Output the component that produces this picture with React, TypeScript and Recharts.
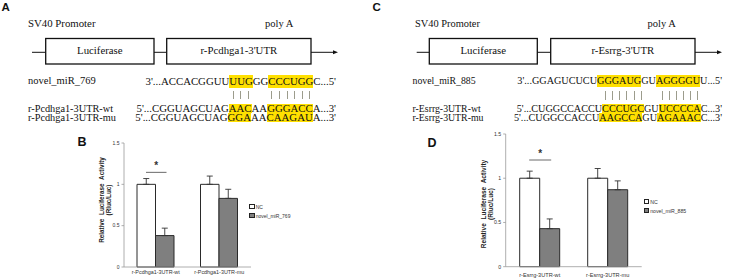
import React from 'react';
import { BarChart, Bar, XAxis, YAxis, ErrorBar, ReferenceDot } from 'recharts';

const SERIF = '"Liberation Serif", "Times New Roman", Times, serif';
const SANS = '"Liberation Sans", Arial, Helvetica, sans-serif';
const YELLOW = '#FFE000';

type Seg = [string, boolean];

// ---------- Panel A sequences ----------
const mirA: Seg[] = [["3'...ACCACGGUU", false], ['UUG', true], ['GG', false], ['CCCUGG', true], ["C...5'", false]];
const wtA: Seg[] = [["5'...CGGUAGCUAG", false], ['AAC', true], ['AA', false], ['GGGACC', true], ["A...3'", false]];
const muA: Seg[] = [["5'...CGGUAGCUAG", false], ['GGA', true], ['AA', false], ['CAAGAU', true], ["A...3'", false]];
// ---------- Panel C sequences ----------
const mirC: Seg[] = [["3'...GGAGUCUCU", false], ['GGGAUG', true], ['GU', false], ['AGGGGU', true], ["U...5'", false]];
const wtC: Seg[] = [["5'...CUGGCCACCU", false], ['CCCUGC', true], ['GU', false], ['UCCCCA', true], ["C...3'", false]];
const muC: Seg[] = [["5'...CUGGCCACCU", false], ['AAGCCA', true], ['GU', false], ['AGAAAC', true], ["C...3'", false]];

// ---------- Panel B data ----------
const categoriesB = ['r-Pcdhga1-3UTR-wt', 'r-Pcdhga1-3UTR-mu'];
const ncB = [1.0, 1.0];
const ncErrB = [0.07, 0.1];
const mirB = [0.38, 0.83];
const mirErrB = [0.09, 0.11];
const seriesB = ['NC', 'novel_miR_769'];

// ---------- Panel D data ----------
const categoriesD = ['r-Esrrg-3UTR-wt', 'r-Esrrg-3UTR-mu'];
const ncD = [1.0, 1.0];
const ncErrD = [0.08, 0.11];
const mirD = [0.43, 0.87];
const mirErrD = [0.11, 0.1];
const seriesD = ['NC', 'novel_miR_885'];

const yTicks = [0, 0.5, 1, 1.5];

function SeqRow({ segs, right, top, h, fs, bars }: { segs: Seg[]; right: number; top: number; h: number; fs: number; bars?: boolean }) {
  return (
    <div style={{ position: 'absolute', right: 738 - right, top, height: h, lineHeight: `${h}px`, fontSize: fs, fontFamily: SERIF, whiteSpace: 'nowrap', color: bars ? 'transparent' : '#111' }}>
      {segs.map(([t, hl], i) =>
        hl ? (
          bars ? (
            t.split('').map((ch, j) => (
              <span key={`${i}-${j}`} style={{ display: 'inline-block', position: 'relative', height: h }}>
                {ch}
                <span style={{ position: 'absolute', left: '50%', top: 0, width: 1, height: h, background: '#9c9c8c' }} />
              </span>
            ))
          ) : (
            <span key={i} style={{ display: 'inline-block', height: h, background: YELLOW }}>{t}</span>
          )
        ) : (
          <span key={i}>{t}</span>
        )
      )}
    </div>
  );
}

function Label({ text, left, top, h, fs }: { text: string; left: number; top: number; h: number; fs: number }) {
  return (
    <div style={{ position: 'absolute', left, top, height: h, lineHeight: `${h}px`, fontSize: fs, fontFamily: SERIF, whiteSpace: 'nowrap', color: '#111' }}>{text}</div>
  );
}

interface ChartProps {
  left: number; top: number; width: number; height: number;
  yAxisW: number; mTop: number; mRight: number; xAxisH: number; xOff: number;
  barSize: number; categories: string[]; nc: number[]; ncErr: number[]; mir: number[]; mirErr: number[];
  sigY: number; starGap: number; tickFs: number; xTickFs: number;
}

function LucChart(p: ChartProps) {
  const data = p.categories.map((name, i) => ({
    name,
    nc: p.nc[i],
    ncErr: [0, p.ncErr[i]],
    mir: p.mir[i],
    mirErr: [0, p.mirErr[i]],
  }));
  const bs = p.barSize;
  const SigShape = (s: any) => {
    const cx = s.cx;
    const cy = s.cy;
    return (
      <g>
        <line x1={cx - bs / 2 - 0.5} x2={cx + bs / 2 + 1.5} y1={cy} y2={cy} stroke="#444" strokeWidth={0.8} />
        <text x={cx + 0.5} y={cy - p.starGap} textAnchor="middle" fontSize={10} fontFamily={SANS} fontWeight={700} fill="#333">*</text>
      </g>
    );
  };
  return (
    <div style={{ position: 'absolute', left: p.left, top: p.top }}>
      <BarChart width={p.width} height={p.height} data={data} margin={{ top: p.mTop, right: p.mRight, bottom: 0, left: 0 }} barGap={0}>
        <XAxis
          dataKey="name"
          height={p.xAxisH}
          interval={0}
          tickLine={false}
          tickSize={p.xOff}
          tickMargin={0}
          axisLine={{ stroke: '#999', strokeWidth: 0.8 }}
          tick={{ fontSize: p.xTickFs, fill: '#333', fontFamily: SANS }}
        />
        <YAxis
          width={p.yAxisW}
          domain={[0, 1.5]}
          ticks={yTicks}
          interval={0}
          tickSize={2.5}
          tickMargin={2}
          axisLine={{ stroke: '#999', strokeWidth: 0.8 }}
          tickLine={{ stroke: '#999', strokeWidth: 0.8 }}
          tick={{ fontSize: p.tickFs, fill: '#333', fontFamily: SANS }}
        />
        <Bar dataKey="nc" fill="#ffffff" stroke="#2a2a2a" strokeWidth={1} barSize={bs} isAnimationActive={false}>
          <ErrorBar dataKey="ncErr" width={3} stroke="#333" strokeWidth={0.9} direction="y" />
        </Bar>
        <Bar dataKey="mir" fill="#7f7f7f" stroke="#2a2a2a" strokeWidth={1} barSize={bs} isAnimationActive={false}>
          <ErrorBar dataKey="mirErr" width={3} stroke="#333" strokeWidth={0.9} direction="y" />
        </Bar>
        <ReferenceDot x={p.categories[0]} y={p.sigY} r={0} ifOverflow="visible" shape={SigShape} />
      </BarChart>
    </div>
  );
}

function Legend({ left, top, gap, fs, names }: { left: number; top: number; gap: number; fs: number; names: string[] }) {
  const fills = ['#ffffff', '#7f7f7f'];
  return (
    <div style={{ position: 'absolute', left, top, fontFamily: SANS, fontSize: fs, color: '#333' }}>
      {names.map((n, i) => (
        <div key={n} style={{ position: 'absolute', left: 0, top: i * gap, height: 6, lineHeight: '6px', whiteSpace: 'nowrap' }}>
          <span style={{ display: 'inline-block', width: 3.5, height: 3.5, border: '0.8px solid #222', background: fills[i], marginRight: 1.2, verticalAlign: 'middle' }} />
          <span style={{ verticalAlign: 'middle' }}>{n}</span>
        </div>
      ))}
    </div>
  );
}

function YTitle({ x1, x2, cy, fs }: { x1: number; x2: number; cy: number; fs: number }) {
  return (
    <g fontFamily={SANS} fontWeight={700} fontSize={fs} fill="#222">
      <text transform={`translate(${x1},${cy}) rotate(-90)`} textAnchor="middle" dominantBaseline="central" wordSpacing={2}>Relative Luciferase Activity</text>
      <text transform={`translate(${x2},${cy}) rotate(-90)`} textAnchor="middle" dominantBaseline="central">(Rluc/Luc)</text>
    </g>
  );
}

function Construct({ x0, l1, l2, r1, r2, arrowEnd, utr }: { x0: number; l1: number; l2: number; r1: number; r2: number; arrowEnd: number; utr: string }) {
  const ly = 52.3;
  const bt = 38.5;
  const bh = 25.5;
  return (
    <g>
      <line x1={x0} x2={l1} y1={ly} y2={ly} stroke="#111" strokeWidth={1} />
      <rect x={l1} y={bt} width={l2 - l1} height={bh} fill="#fff" stroke="#111" strokeWidth={1.3} />
      <line x1={l2} x2={r1} y1={ly} y2={ly} stroke="#111" strokeWidth={1} />
      <rect x={r1} y={bt} width={r2 - r1} height={bh} fill="#fff" stroke="#111" strokeWidth={1.3} />
      <line x1={r2} x2={arrowEnd - 4} y1={ly} y2={ly} stroke="#111" strokeWidth={1} />
      <polygon points={`${arrowEnd - 5},${ly - 2} ${arrowEnd},${ly} ${arrowEnd - 5},${ly + 2}`} fill="#111" />
      <text x={(l1 + l2) / 2} y={54} textAnchor="middle" fontFamily={SERIF} fontSize={10.8} fill="#111">Luciferase</text>
      <text x={(r1 + r2) / 2} y={54} textAnchor="middle" fontFamily={SERIF} fontSize={10.8} fill="#111">{utr}</text>
    </g>
  );
}

export default function App() {
  return (
    <div style={{ position: 'absolute', left: 0, top: 0, width: 738, height: 279, background: '#fff', overflow: 'hidden' }}>
      <svg width={738} height={279} style={{ position: 'absolute', left: 0, top: 0 }}>
        {/* panel letters */}
        <text x={1.5} y={11} fontFamily={SANS} fontWeight={700} fontSize={11.5} fill="#111">A</text>
        <text x={372.5} y={11} fontFamily={SANS} fontWeight={700} fontSize={11.5} fill="#111">C</text>
        <text x={77.5} y={146} fontFamily={SANS} fontWeight={700} fontSize={12.5} fill="#111">B</text>
        <text x={427.5} y={146.5} fontFamily={SANS} fontWeight={700} fontSize={12.5} fill="#111">D</text>

        <text x={28} y={26.8} fontFamily={SERIF} fontSize={10.8} fill="#111">SV40 Promoter</text>
        <text x={265} y={26.8} fontFamily={SERIF} fontSize={10.5} fill="#111">poly A</text>
        <text x={415} y={27.2} fontFamily={SERIF} fontSize={10.4} fill="#111">SV40 Promoter</text>
        <text x={647.5} y={27.2} fontFamily={SERIF} fontSize={10.5} fill="#111">poly A</text>

        <Construct x0={32} l1={45.7} l2={154} r1={166.7} r2={311} arrowEnd={338} utr="r-Pcdhga1-3'UTR" />
        <Construct x0={416.7} l1={429.3} l2={537.3} r1={550.7} r2={695} arrowEnd={722} utr="r-Esrrg-3'UTR" />

        <YTitle x1={101} x2={108} cy={200} fs={6.3} />
        <YTitle x1={483} x2={490} cy={204} fs={6.5} />
      </svg>

      {/* Panel A sequences */}
      <Label text="novel_miR_769" left={28} top={75} h={12.7} fs={10.5} />
      <Label text="r-Pcdhga1-3UTR-wt" left={28} top={103.8} h={9} fs={10.3} />
      <Label text="r-Pcdhga1-3UTR-mu" left={28} top={112.8} h={9} fs={10.3} />
      <SeqRow segs={mirA} right={336} top={75} h={12.7} fs={10.8} />
      <SeqRow segs={wtA} right={336} top={90.7} h={8.7} fs={10.8} bars />
      <SeqRow segs={wtA} right={336} top={103.8} h={9} fs={10.8} />
      <SeqRow segs={muA} right={336} top={112.8} h={9} fs={10.8} />

      {/* Panel C sequences */}
      <Label text="novel_miR_885" left={412.5} top={74.5} h={12.7} fs={9.8} />
      <Label text="r-Esrrg-3UTR-wt" left={412.5} top={103.5} h={9} fs={9.8} />
      <Label text="r-Esrrg-3UTR-mu" left={412.5} top={112.8} h={9} fs={9.8} />
      <SeqRow segs={mirC} right={722} top={74.5} h={12.7} fs={10.2} />
      <SeqRow segs={wtC} right={722} top={90.7} h={9} fs={10.2} bars />
      <SeqRow segs={wtC} right={722} top={103.5} h={9} fs={10.2} />
      <SeqRow segs={muC} right={722} top={112.8} h={9} fs={10.2} />

      {/* Panel B chart */}
      <LucChart
        left={60} top={130} width={260} height={149}
        yAxisW={64} mTop={13} mRight={69} xAxisH={12} xOff={3.6}
        barSize={18.5}
        categories={categoriesB} nc={ncB} ncErr={ncErrB} mir={mirB} mirErr={mirErrB}
        sigY={1.145} starGap={3.2} tickFs={5} xTickFs={5.4}
      />
      <Legend left={249} top={202.7} gap={9.3} fs={5} names={seriesB} />

      {/* Panel D chart */}
      <LucChart
        left={440} top={125} width={270} height={154}
        yAxisW={65.7} mTop={9} mRight={68.3} xAxisH={12.3} xOff={6.2}
        barSize={20}
        categories={categoriesD} nc={ncD} ncErr={ncErrD} mir={mirD} mirErr={mirErrD}
        sigY={1.206} starGap={2.6} tickFs={5.2} xTickFs={5.6}
      />
      <Legend left={643.5} top={197.7} gap={9.3} fs={5.2} names={seriesD} />
    </div>
  );
}
